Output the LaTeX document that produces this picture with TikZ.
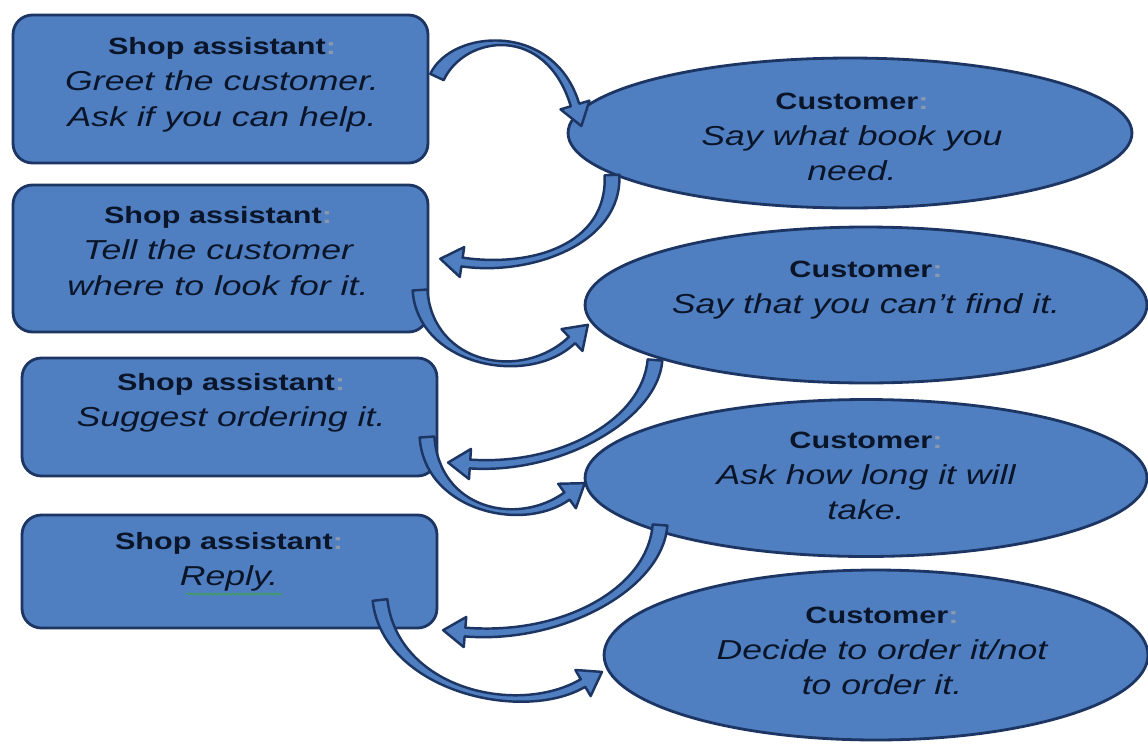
\documentclass[tikz,border=0pt]{standalone}
\usepackage{fontspec}
\setmainfont{Liberation Sans}[FakeStretch=1.3]
\usetikzlibrary{calc,shapes.geometric,decorations.pathmorphing}
\definecolor{boxfill}{HTML}{4F7FC0}
\definecolor{boxline}{HTML}{1C3563}
\definecolor{txt}{HTML}{0B1529}
\definecolor{colonc}{HTML}{8A98B0}
\definecolor{spell}{HTML}{3FA34D}
\tikzset{
  sabox/.style={draw=boxline, fill=boxfill, line width=1.6pt, rounded corners=11pt, inner sep=0pt},
  custell/.style={draw=boxline, fill=boxfill, line width=1.6pt, ellipse, inner sep=0pt},
  lbl/.style={align=center, text=txt, inner sep=0pt, font=\fontsize{15.6}{20.4}\selectfont\itshape},
  carr/.style={draw=boxline, fill=boxfill, line width=1.4pt, line join=round},
  spellline/.style={draw=spell, line width=0.5pt, decorate, decoration={snake, amplitude=0.5pt, segment length=2pt}}
}
\newcommand{\hdS}{{\upshape\bfseries\fontsize{13.4}{20.4}\selectfont Shop assistant\textcolor{colonc}{:}}}
\newcommand{\hdC}{{\upshape\bfseries\fontsize{13.4}{20.4}\selectfont Customer\textcolor{colonc}{:}}}
\def\arTW{4.2pt}
\def\arEW{2.5pt}
\def\arHW{8.6pt}
\def\arHL{12.5pt}
\newcommand{\bandarrow}[4]{%
  \coordinate (ba0) at ($(#1)!\arTW!90:(#2)$);
  \coordinate (bb0) at ($(#1)!\arTW!-90:(#2)$);
  \coordinate (ba1) at ($(#2)+(ba0)-(#1)$);
  \coordinate (bb1) at ($(#2)+(bb0)-(#1)$);
  \coordinate (ba3) at ($(#4)!\arEW!-90:(#3)$);
  \coordinate (bb3) at ($(#4)!\arEW!90:(#3)$);
  \coordinate (ba2) at ($(#3)+(ba3)-(#4)$);
  \coordinate (bb2) at ($(#3)+(bb3)-(#4)$);
  \coordinate (bha) at ($(#4)!\arHW!-90:(#3)$);
  \coordinate (bhb) at ($(#4)!\arHW!90:(#3)$);
  \coordinate (btip) at ($(#4)!-\arHL!(#3)$);
  \draw[carr] (ba0) .. controls (ba1) and (ba2) .. (ba3) -- (bha) -- (btip) -- (bhb) -- (bb3) .. controls (bb2) and (bb1) .. (bb0) -- cycle;
}
\begin{document}
\begin{tikzpicture}[x=0.02cm, y=-0.02cm]
\useasboundingbox (0,0) rectangle (1148,744);
\fill[white] (0,0) rectangle (1148,744);

% shop assistant boxes
\node[sabox, minimum width=8.3cm, minimum height=2.96cm] (b1) at (220.5,89) {};
\node[sabox, minimum width=8.3cm, minimum height=2.94cm] (b2) at (220.5,258.5) {};
\node[sabox, minimum width=8.3cm, minimum height=2.36cm] (b3) at (229.5,417) {};
\node[sabox, minimum width=8.3cm, minimum height=2.26cm] (b4) at (229.5,571.5) {};

% customer ellipses
\node[custell, minimum width=11.28cm, minimum height=3.0cm] (e1) at (850,133) {};
\node[custell, minimum width=11.24cm, minimum height=3.12cm] (e2) at (866,305) {};
\node[custell, minimum width=11.24cm, minimum height=3.14cm] (e3) at (866,478) {};
\node[custell, minimum width=10.88cm, minimum height=3.4cm] (e4) at (876,655) {};

% texts
\node[lbl] (t1) at (222,85) {\hdS\\Greet the customer.\\Ask if you can help.};
\node[lbl] (t2) at (218,251) {\hdS\\Tell the customer\\where to look for it.};
\node[lbl] (t3) at (231,403) {\hdS\\Suggest ordering it.};
\node[lbl] (t4) at (229,562) {\hdS\\Reply.};
\coordinate (sp1) at (186,594);
\coordinate (sp2) at (282,594);
\draw[spellline] (sp1) -- (sp2);

\node[lbl] (c1) at (852,137) {\hdC\\Say what book you\\need.};
\node[lbl] (c2) at (866,290) {\hdC\\Say that you can't find it.};
\node[lbl] (c3) at (866,476) {\hdC\\Ask how long it will\\take.};
\node[lbl] (c4) at (882,651) {\hdC\\Decide to order it/not\\to order it.};

% curved arrows
\coordinate (a1s) at (437,77);  \coordinate (a1p) at (458,32);  \coordinate (a1q) at (550,22);  \coordinate (a1e) at (575,105);
\coordinate (a2s) at (612,175); \coordinate (a2p) at (615,245); \coordinate (a2q) at (530,272); \coordinate (a2e) at (462,262);
\coordinate (a3s) at (420,290); \coordinate (a3p) at (425,365); \coordinate (a3q) at (525,385); \coordinate (a3e) at (572,340);
\coordinate (a4s) at (655,360); \coordinate (a4p) at (650,420); \coordinate (a4q) at (560,470); \coordinate (a4e) at (470,464);
\coordinate (a5s) at (427,437); \coordinate (a5p) at (432,510); \coordinate (a5q) at (520,530); \coordinate (a5e) at (567,496);
\coordinate (a6s) at (660,525); \coordinate (a6p) at (655,590); \coordinate (a6q) at (560,640); \coordinate (a6e) at (465,632);
\coordinate (a7s) at (380,600); \coordinate (a7p) at (390,690); \coordinate (a7q) at (520,720); \coordinate (a7e) at (583,683);

\bandarrow{a1s}{a1p}{a1q}{a1e}
\bandarrow{a2s}{a2p}{a2q}{a2e}
\bandarrow{a3s}{a3p}{a3q}{a3e}
\bandarrow{a4s}{a4p}{a4q}{a4e}
\bandarrow{a5s}{a5p}{a5q}{a5e}
\bandarrow{a6s}{a6p}{a6q}{a6e}
\bandarrow{a7s}{a7p}{a7q}{a7e}
\end{tikzpicture}
\end{document}
